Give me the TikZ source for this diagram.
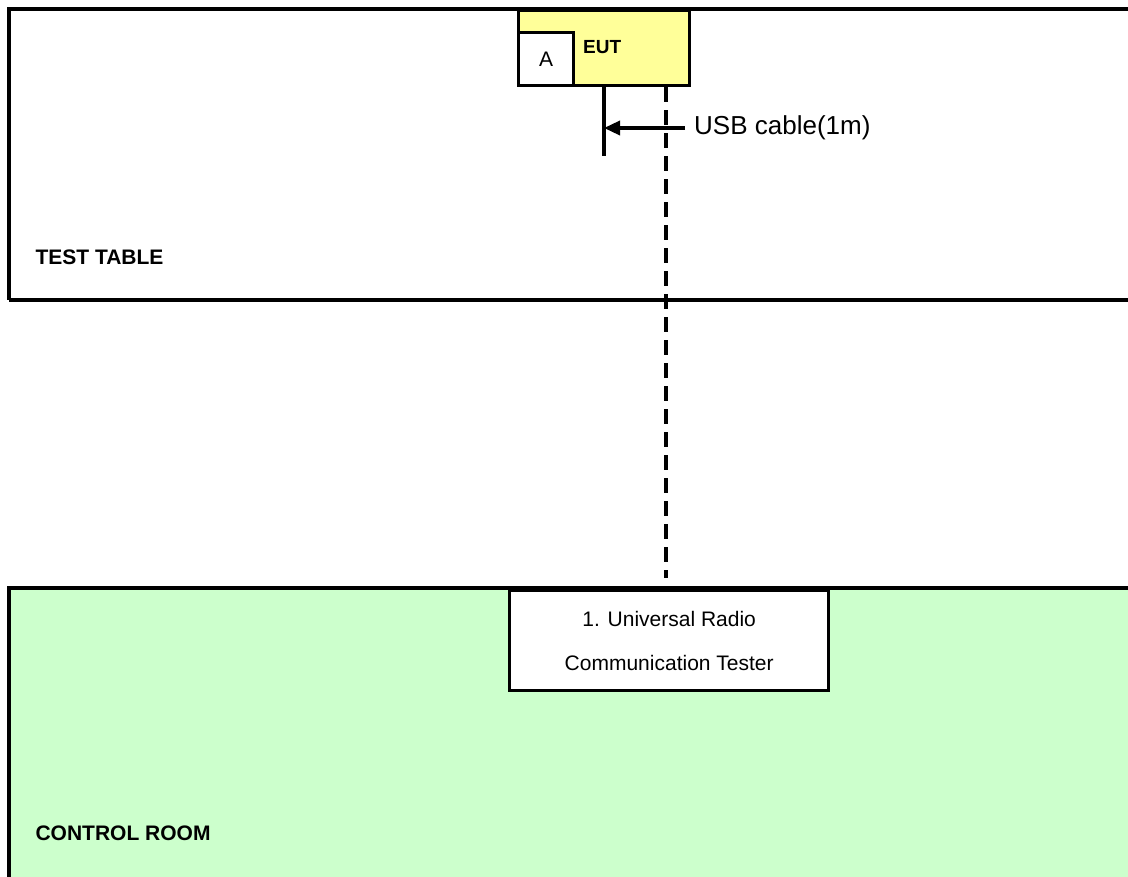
\documentclass[tikz,border=0pt]{standalone}
\usepackage{fontspec}
\setmainfont{Liberation Sans}
\usetikzlibrary{arrows.meta}

\definecolor{eutyellow}{HTML}{FFFF99}
\definecolor{roomgreen}{HTML}{CCFFCC}

\begin{document}
\begin{tikzpicture}[x=1pt,y=-1pt,
  room/.style={line width=3.8pt},
  unit/.style={draw,line width=3.4pt,inner sep=0pt,anchor=north west},
  cable/.style={line width=3.4pt},
  lbl/.style={font=\fontsize{21}{25}\selectfont\bfseries,anchor=west}]
\useasboundingbox (0,0) rectangle (1128,877);
\fill[white](0,0) rectangle (1128,877);

% test table and control room
\draw[room](9,300)--(9,9)--(1140,9) (9,300)--(1140,300);
\fill[roomgreen](9,588) rectangle (1140,890);
\draw[room](9,890)--(9,588)--(1140,588);
\node[lbl] (table) at (32,257) {TEST TABLE};
\node[lbl] (room) at (32,833) {CONTROL ROOM};

% EUT
\node[unit,fill=eutyellow,minimum width=171pt,minimum height=75pt] (eut) at (517,9) {};
\node[unit,fill=white,minimum width=55pt,minimum height=53pt,font=\fontsize{21}{25}\selectfont] (a) at (517,31) {A};
\node[font=\fontsize{19}{23}\selectfont\bfseries,anchor=west,inner sep=0pt] (euttxt) at (583,47) {EUT};

% tester
\node[unit,fill=white,minimum width=319pt,minimum height=100pt,align=center,
  font=\fontsize{21}{44}\selectfont] (urct) at (508,589) {1. Universal Radio\\Communication Tester};

% cables
\coordinate (usbend) at (604,156);
\coordinate (dashx) at (666,0);
\draw[cable](eut.south -| usbend)--(usbend);
\draw[cable,dash pattern=on 15pt off 8pt,shorten >=11pt](eut.south -| dashx)--(urct.north -| dashx);
\node[font=\fontsize{26}{30}\selectfont,anchor=west,inner sep=0pt] (usb) at (694,128) {USB cable(1m)};
\draw[cable,-{Triangle[length=16pt,width=14pt]}](usb.west)++(-9,0)--(usb.west -| usbend);

\end{tikzpicture}
\end{document}
